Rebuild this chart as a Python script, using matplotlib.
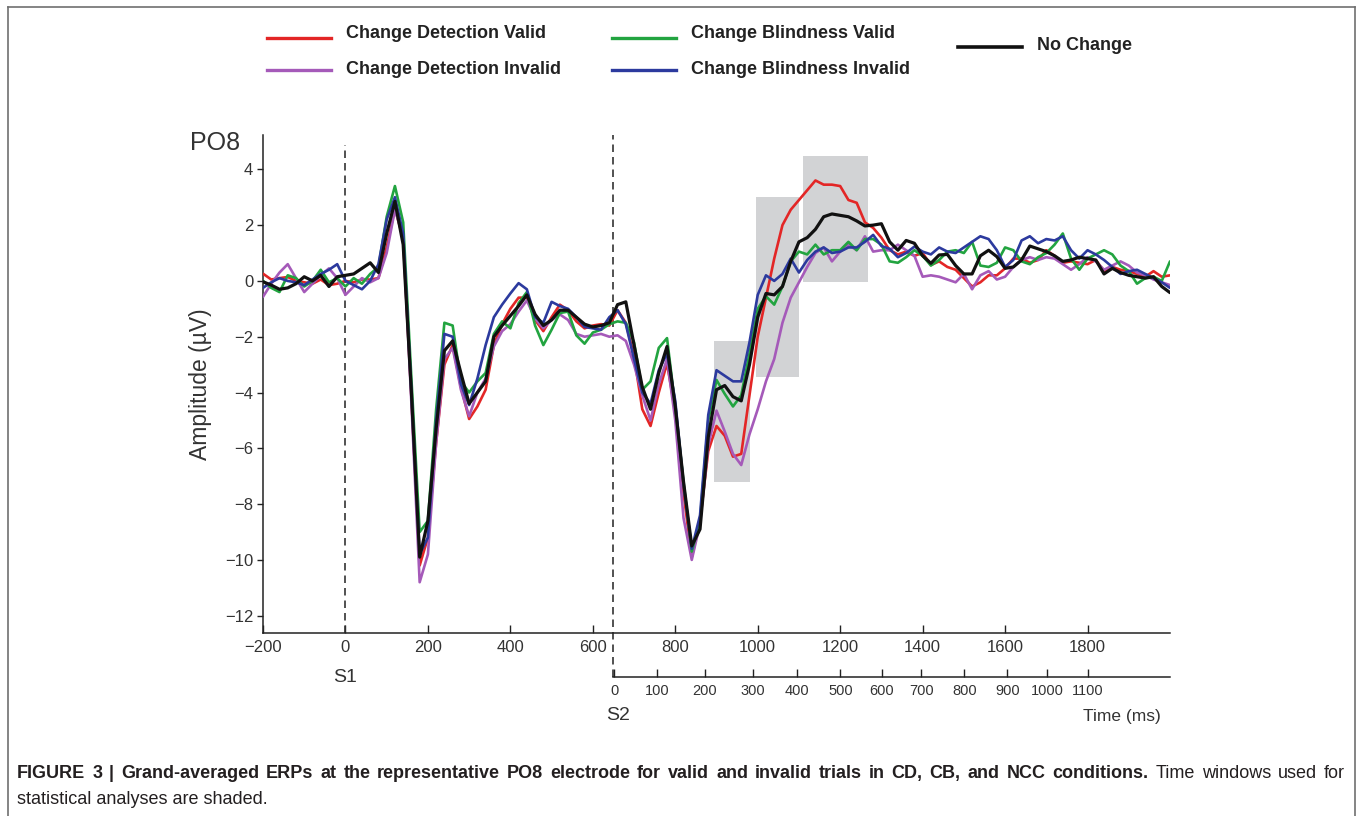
import matplotlib
matplotlib.use("Agg")
import matplotlib.pyplot as plt
import numpy as np
from matplotlib.lines import Line2D
from matplotlib.patches import Rectangle

plt.rcParams["font.family"] = ["Liberation Sans", "DejaVu Sans"]

times = np.arange(-200, 2001, 20)

cd_valid = [  # Change Detection Valid (red)
    0.26, 0.05, 0.10, 0.14, 0.00, -0.05, -0.10, 0.05, -0.15, -0.10,
    0.00, -0.05, 0.05, 0.05, 0.10, 1.20, 2.60, 1.50, -4.20, -10.20,
    -9.20, -5.80, -3.00, -2.30, -3.80, -4.95, -4.50, -3.90, -2.30, -1.55,
    -1.00, -0.60, -0.60, -1.40, -1.80, -1.30, -0.85, -1.05, -1.45, -1.70,
    -1.60, -1.55, -1.60, -1.05, -1.50, -2.70, -4.60, -5.20, -4.00, -2.95,
    -4.70, -7.60, -9.90, -8.60, -6.10, -5.20, -5.55, -6.30, -6.20, -4.10,
    -2.00, -0.60, 0.80, 2.00, 2.55, 2.90, 3.25, 3.60, 3.45, 3.45,
    3.40, 2.90, 2.80, 2.10, 1.90, 1.55, 1.10, 0.95, 1.05, 0.90,
    1.00, 0.57, 0.70, 0.50, 0.40, 0.10, -0.20, -0.05, 0.20, 0.20,
    0.45, 0.80, 0.80, 0.65, 0.75, 1.10, 0.90, 0.65, 0.70, 0.65,
    0.60, 0.75, 0.35, 0.50, 0.40, 0.35, 0.25, 0.15, 0.35, 0.15,
    0.20,
]
cd_invalid = [  # Change Detection Invalid (purple)
    -0.57, -0.10, 0.30, 0.60, 0.10, -0.40, -0.10, 0.20, 0.45, 0.10,
    -0.50, -0.20, 0.10, -0.05, 0.10, 1.00, 2.55, 1.60, -4.40, -10.80,
    -9.80, -5.80, -2.80, -2.40, -3.90, -4.85, -4.00, -3.50, -2.35, -1.80,
    -1.55, -1.10, -0.70, -1.35, -1.70, -1.40, -1.20, -1.40, -1.90, -2.00,
    -1.95, -1.90, -2.00, -1.95, -2.15, -3.00, -4.10, -5.00, -3.70, -2.80,
    -5.00, -8.50, -10.00, -8.70, -5.90, -4.65, -5.40, -6.20, -6.60, -5.50,
    -4.60, -3.60, -2.80, -1.50, -0.60, -0.05, 0.50, 1.00, 1.20, 0.70,
    1.05, 1.30, 1.10, 1.60, 1.05, 1.10, 1.10, 1.30, 1.10, 0.90,
    0.15, 0.20, 0.15, 0.05, -0.05, 0.25, -0.30, 0.20, 0.35, 0.05,
    0.15, 0.50, 0.75, 0.85, 0.75, 0.85, 0.80, 0.60, 0.40, 0.60,
    0.85, 0.70, 0.40, 0.55, 0.70, 0.55, 0.30, 0.20, 0.05, -0.05,
    -0.15,
]
cb_valid = [  # Change Blindness Valid (green)
    0.00, -0.25, -0.40, 0.20, 0.10, -0.20, 0.00, 0.40, -0.05, 0.10,
    -0.20, 0.10, -0.10, 0.25, 0.50, 2.30, 3.40, 2.10, -3.50, -9.00,
    -8.60, -4.60, -1.50, -1.60, -3.60, -4.00, -3.60, -3.30, -1.90, -1.45,
    -1.70, -0.80, -0.40, -1.60, -2.30, -1.75, -1.15, -1.10, -1.95, -2.25,
    -1.85, -1.75, -1.55, -1.45, -1.50, -2.20, -3.90, -3.60, -2.40, -2.05,
    -4.50, -7.20, -9.70, -8.60, -5.00, -3.55, -4.05, -4.50, -4.10, -2.60,
    -1.00, -0.55, -0.85, -0.20, 0.70, 1.05, 0.95, 1.30, 0.95, 1.10,
    1.10, 1.40, 1.10, 1.50, 1.50, 1.30, 0.70, 0.65, 0.85, 1.10,
    0.90, 0.55, 0.75, 1.05, 1.10, 1.00, 1.40, 0.55, 0.50, 0.65,
    1.20, 1.10, 0.70, 0.60, 0.85, 1.00, 1.30, 1.70, 0.80, 0.40,
    0.80, 0.95, 1.10, 0.95, 0.55, 0.35, -0.10, 0.10, 0.15, 0.00,
    0.70,
]
cb_invalid = [  # Change Blindness Invalid (blue)
    -0.25, -0.05, 0.10, 0.00, -0.05, -0.15, 0.05, 0.25, 0.40, 0.60,
    0.00, -0.15, -0.30, 0.00, 0.60, 2.20, 3.00, 1.70, -4.00, -9.80,
    -9.20, -5.00, -1.90, -2.00, -3.70, -4.45, -3.50, -2.30, -1.30, -0.85,
    -0.45, -0.08, -0.30, -1.30, -1.50, -0.75, -0.90, -1.00, -1.30, -1.65,
    -1.70, -1.75, -1.30, -1.05, -1.55, -2.80, -4.00, -4.40, -3.20, -2.60,
    -4.30, -7.30, -9.60, -8.40, -4.80, -3.20, -3.40, -3.60, -3.60, -2.20,
    -0.50, 0.20, 0.00, 0.25, 0.80, 0.30, 0.75, 1.05, 1.20, 1.00,
    1.05, 1.20, 1.20, 1.40, 1.65, 1.25, 1.15, 0.85, 1.00, 1.23,
    1.05, 0.95, 1.20, 1.05, 1.00, 1.20, 1.40, 1.60, 1.50, 1.10,
    0.50, 0.75, 1.45, 1.60, 1.35, 1.50, 1.45, 1.60, 1.10, 0.80,
    1.10, 0.95, 0.75, 0.50, 0.25, 0.35, 0.40, 0.25, 0.10, -0.05,
    -0.25,
]
no_change = [  # No Change (black)
    -0.03, -0.15, -0.30, -0.25, -0.10, 0.15, 0.00, 0.20, -0.20, 0.15,
    0.20, 0.25, 0.45, 0.65, 0.30, 1.70, 2.85, 1.30, -4.00, -9.90,
    -8.60, -5.30, -2.50, -2.15, -3.30, -4.40, -4.00, -3.60, -2.00, -1.60,
    -1.25, -0.90, -0.50, -1.20, -1.60, -1.40, -1.05, -1.05, -1.30, -1.55,
    -1.65, -1.60, -1.50, -0.85, -0.75, -2.30, -3.80, -4.60, -3.30, -2.35,
    -4.50, -7.20, -9.50, -8.90, -5.60, -3.90, -3.75, -4.15, -4.30, -3.00,
    -1.30, -0.45, -0.50, -0.20, 0.70, 1.40, 1.55, 1.85, 2.30, 2.40,
    2.35, 2.30, 2.15, 1.97, 2.00, 2.05, 1.40, 1.10, 1.45, 1.35,
    0.90, 0.63, 0.93, 0.95, 0.55, 0.25, 0.25, 0.90, 1.10, 0.87,
    0.45, 0.50, 0.75, 1.25, 1.15, 1.05, 0.90, 0.70, 0.75, 0.85,
    0.80, 0.75, 0.25, 0.45, 0.30, 0.20, 0.15, 0.10, 0.15, -0.20,
    -0.42,
]

labels = ["Change Detection Valid", "Change Detection Invalid",
          "Change Blindness Valid", "Change Blindness Invalid", "No Change"]
colors = ["#e32626", "#a55ab9", "#22a440", "#2c3a9e", "#111111"]
series = [cd_valid, cd_invalid, cb_valid, cb_invalid, no_change]

# shaded analysis windows (ms on the S1 axis, amplitude range)
win_start = [893, 997, 1109]
win_end = [982, 1100, 1268]
win_low = [-7.22, -3.45, -0.05]
win_high = [-2.14, 3.02, 4.46]

S2_ONSET = 650
# S2-locked tick labels and where they sit on the S1 time axis
s2_labels = [0, 100, 200, 300, 400, 500, 600, 700, 800, 900, 1000, 1100]
s2_pos = [651.6, 756.4, 871.4, 987.4, 1095, 1200.7, 1300.9, 1396.4,
          1501.3, 1605.2, 1701.7, 1801.5]

W, H = 1357, 816
fig = plt.figure(figsize=(W / 100, H / 100), dpi=100)


def fx(px):
    return px / W


def fy(py):
    return 1 - py / H


ax_l, ax_r, ax_t, ax_b = 263, 1170, 135, 633
ax = fig.add_axes([fx(ax_l), fy(ax_b), fx(ax_r - ax_l), (ax_b - ax_t) / H])
ax.set_xlim(-200, 2000)
ax.set_ylim(-12.62, 5.23)

for s, e, lo, hi in zip(win_start, win_end, win_low, win_high):
    ax.add_patch(Rectangle((s, lo), e - s, hi - lo, facecolor="#d2d3d5",
                           edgecolor="none", zorder=1))

order = [1, 2, 3, 0, 4]
for i in order:
    lw = 2.3 if i == 4 else 1.9
    ax.plot(times, series[i], color=colors[i], lw=lw, zorder=3 + i * 0.1,
            solid_joinstyle="round", solid_capstyle="round")

tr = ax.get_xaxis_transform()
ax.plot([0, 0], [0, 0.98], transform=tr, color="#333333", lw=1.2,
        ls=(0, (4.5, 3)), zorder=2, clip_on=False)
sec_y = 677
sec_frac = (ax_b - sec_y) / (ax_b - ax_t)
ax.plot([S2_ONSET, S2_ONSET], [sec_frac, 1.0], transform=tr, color="#333333",
        lw=1.2, ls=(0, (4.5, 3)), zorder=2, clip_on=False)

for sp in ("top", "right"):
    ax.spines[sp].set_visible(False)
for sp in ("left", "bottom"):
    ax.spines[sp].set_color("#222222")
    ax.spines[sp].set_linewidth(1.1)
ax.set_yticks(np.arange(-12, 5, 2))
ax.set_yticklabels([str(v).replace("-", "\u2212") for v in range(-12, 5, 2)])
ax.set_xticks(np.arange(-200, 1801, 200))
ax.set_xticklabels([str(v).replace("-", "\u2212") for v in range(-200, 1801, 200)])
ax.tick_params(axis="y", direction="out", length=4, width=1, pad=3,
               labelsize=12, colors="#222222", labelcolor="#333333")
ax.tick_params(axis="x", direction="in", length=6, width=1, pad=5,
               labelsize=12, colors="#222222", labelcolor="#333333")
ax.set_ylabel("Amplitude (\u00b5V)", fontsize=16.5, color="#333333")
ax.yaxis.set_label_coords((212 - ax_l) / (ax_r - ax_l), 0.5)

ax.text(0, (ax_b - 678) / (ax_b - ax_t), "S1", transform=tr, ha="center",
        va="center", fontsize=14, color="#333333")
ax.text(661, (ax_b - 716) / (ax_b - ax_t), "S2", transform=tr, ha="center",
        va="center", fontsize=14, color="#333333")
ax.text(1977, (ax_b - 716) / (ax_b - ax_t), "Time (ms)", transform=tr,
        ha="right", va="center", fontsize=12.5, color="#333333")
fig.text(fx(190), fy(143), "PO8", ha="left", va="center", fontsize=18,
         color="#333333")

# secondary (S2-locked) time axis
ax2 = fig.add_axes([fx(ax_l), fy(sec_y), fx(ax_r - ax_l), 0.001])
ax2.set_xlim(ax.get_xlim())
ax2.patch.set_visible(False)
for sp in ("top", "left", "right"):
    ax2.spines[sp].set_visible(False)
ax2.spines["bottom"].set_bounds(S2_ONSET, 2000)
ax2.spines["bottom"].set_color("#222222")
ax2.spines["bottom"].set_linewidth(1.1)
ax2.set_yticks([])
ax2.set_xticks(s2_pos)
ax2.set_xticklabels([str(v) for v in s2_labels])
ax2.tick_params(axis="x", direction="in", length=6, width=1, pad=5,
                labelsize=10.5, colors="#222222", labelcolor="#333333")

# legend drawn by hand, laid out like the original
leg_x = [267, 267, 612, 612, 958]
leg_y = [38, 70, 38, 70, 47]
txt_y = [33, 69, 33, 69, 46]
for lab, c, x0, y0, ty in zip(labels, colors, leg_x, leg_y, txt_y):
    fig.add_artist(Line2D([fx(x0), fx(x0 + 64)], [fy(y0), fy(y0)], color=c,
                          lw=2.4 if c != "#111111" else 2.6))
    fig.text(fx(x0 + 79), fy(ty), lab, ha="left", va="center", fontsize=13,
             fontweight="bold", color="#222222")

# frame around figure
frame_c = "#707070"
fig.add_artist(Line2D([fx(7.5), fx(7.5)], [0, fy(6.5)], color=frame_c, lw=1.2))
fig.add_artist(Line2D([fx(7.5), fx(1355)], [fy(6.5), fy(6.5)], color=frame_c, lw=1.2))
fig.add_artist(Line2D([fx(1355), fx(1355)], [0, fy(6.5)], color=frame_c, lw=1.2))

# caption: first line is justified between x=17 and x=1345
cap_bold = ("FIGURE 3 | Grand-averaged ERPs at the representative PO8 electrode "
            "for valid and invalid trials in CD, CB, and NCC conditions.")
cap_rest = "Time windows used for"
cap_line2 = "statistical analyses are shaded."
cap_fs = 13
cap_col = "#231f20"
words = [(w, "bold") for w in cap_bold.split()] + \
        [(w, "normal") for w in cap_rest.split()]
renderer = fig.canvas.get_renderer()
arts = []
for w, wt in words:
    t = fig.text(0, fy(778), w, ha="left", va="baseline", fontsize=cap_fs,
                 fontweight=wt, color=cap_col)
    arts.append(t)
widths = [a.get_window_extent(renderer=renderer).width for a in arts]
gap = (1345 - 17 - sum(widths)) / (len(arts) - 1)
xpos = 17
for a, wd in zip(arts, widths):
    a.set_x(fx(xpos))
    xpos += wd + gap
fig.text(fx(17), fy(804), cap_line2, ha="left", va="baseline",
         fontsize=cap_fs, color=cap_col)

fig.savefig("out.png", dpi=100)
